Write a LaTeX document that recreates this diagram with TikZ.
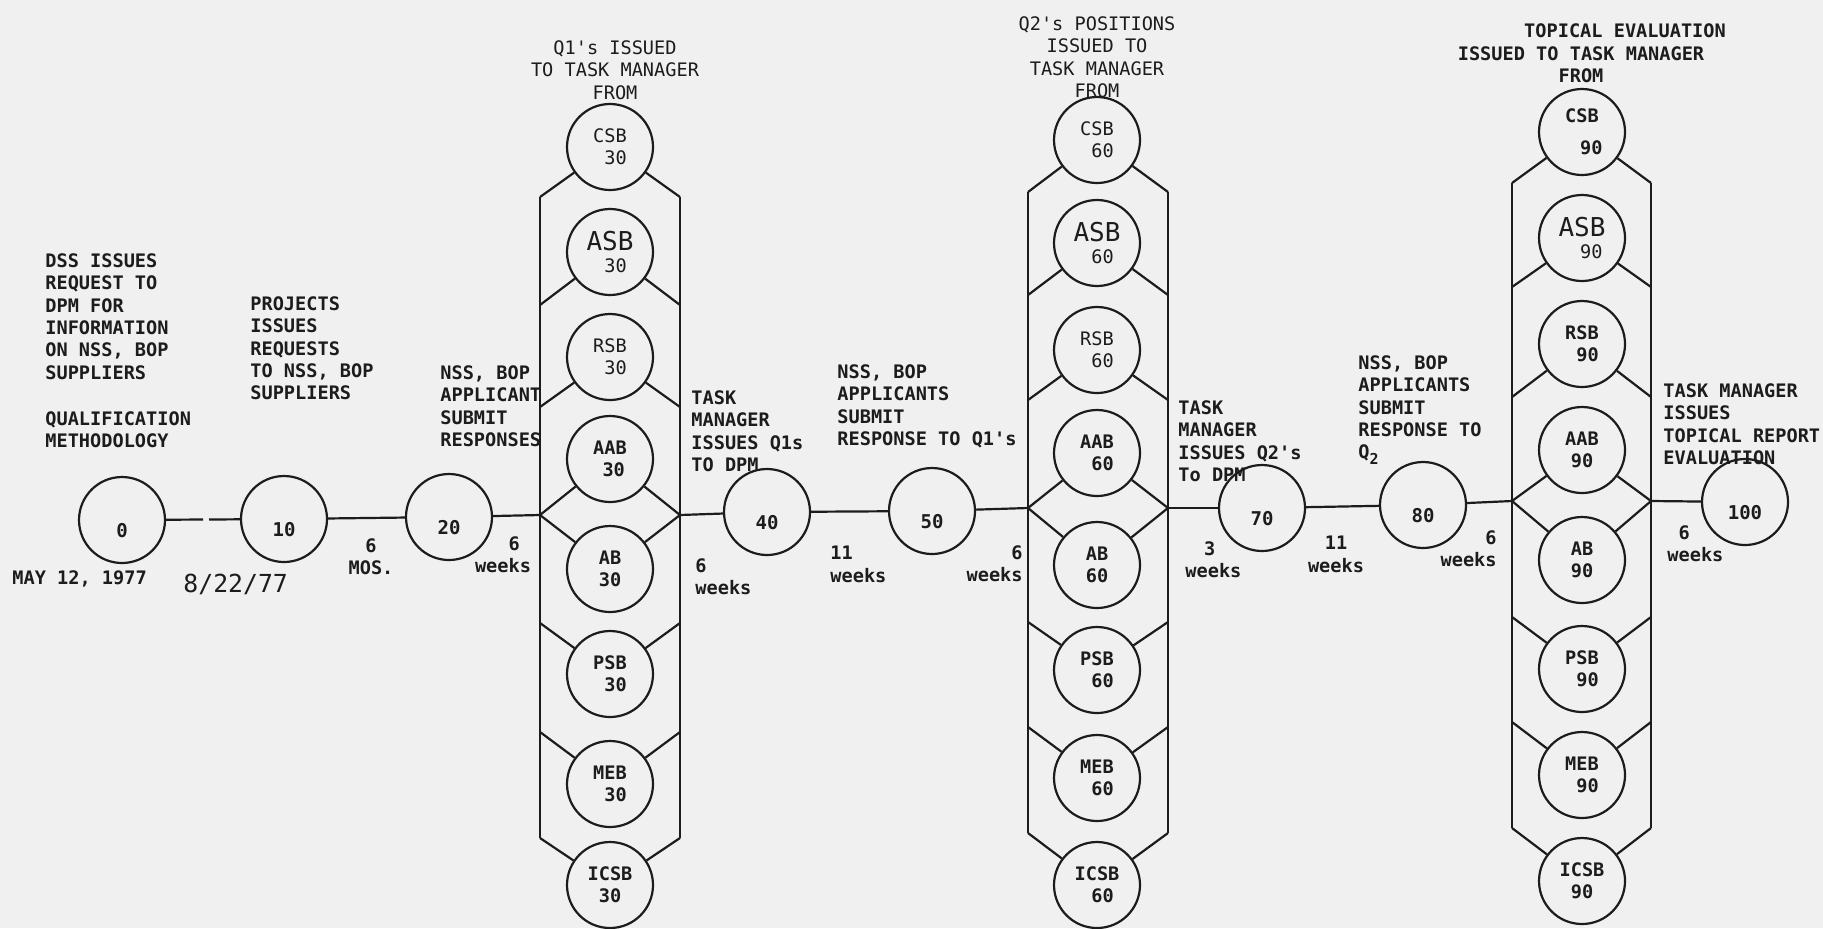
\documentclass[tikz,border=0pt]{standalone}
\usepackage{fontspec}
\newfontfamily\tw{DejaVu Sans Mono}
\definecolor{bg}{RGB}{240,240,240}
\definecolor{ink}{RGB}{28,28,28}
\newcommand\asbf{\fontsize{13}{13}\selectfont\mdseries}
\tikzset{
  ln/.style={draw=ink, line width=1.1pt},
  bub/.style={circle, draw=ink, line width=1.1pt, minimum size=43pt, inner sep=0pt, text=ink},
  tl/.style={bub, font=\tw\bfseries\fontsize{9.5}{11}\selectfont, text height=17pt, text depth=0pt},
  cr/.style={bub, align=center, font=\tw\fontsize{9.3}{11}\selectfont},
  cb/.style={bub, align=center, font=\tw\bfseries\fontsize{9.3}{11}\selectfont},
  txt/.style={inner sep=0pt, text=ink, font=\tw\bfseries\fontsize{9.3}{11.2}\selectfont},
  lt/.style={txt, align=left, anchor=north west},
  ct/.style={txt, align=center, anchor=north},
  rt/.style={txt, align=right, anchor=north east},
  reg/.style={font=\tw\fontsize{9.3}{11.2}\selectfont},
}
\begin{document}
\begin{tikzpicture}[x=0.5pt,y=-0.5pt]
\fill[bg] (0,0) rectangle (1823,928);
\useasboundingbox (0,0) rectangle (1823,928);

% timeline circles
\node[tl] (n0)   at (122,520) {0};
\node[tl] (n10)  at (284,519) {10};
\node[tl] (n20)  at (449,517) {20};
\node[tl] (n40)  at (767,512) {40};
\node[tl] (n50)  at (932,511) {50};
\node[tl] (n70)  at (1262,508) {70};
\node[tl] (n80)  at (1423,505) {80};
\node[tl] (n100) at (1745,502) {100};

% column 1
\node[cr] (a1) at (610,147) {CSB\\\hspace*{0.6em}30};
\node[cr] (a2) at (610,252) {{\asbf ASB}\\\hspace*{0.6em}30};
\node[cr] (a3) at (610,357) {RSB\\\hspace*{0.6em}30};
\node[cb] (a4) at (610,459) {AAB\\\hspace*{0.4em}30};
\node[cb] (a5) at (610,569) {AB\\30};
\node[cb] (a6) at (610,674) {PSB\\\hspace*{0.6em}30};
\node[cb] (a7) at (610,784) {MEB\\\hspace*{0.6em}30};
\node[cb] (a8) at (610,885) {ICSB\\30};
\foreach \k/\y in {0/197,1/305,2/407,3/515,4/623,5/732,6/838}{
  \coordinate (aL\k) at (540,\y); \coordinate (aR\k) at (680,\y);}

% column 2
\node[cr] (b1) at (1097,140) {CSB\\\hspace*{0.6em}60};
\node[cr] (b2) at (1097,243) {{\asbf ASB}\\\hspace*{0.6em}60};
\node[cr] (b3) at (1097,350) {RSB\\\hspace*{0.6em}60};
\node[cb] (b4) at (1097,453) {AAB\\\hspace*{0.6em}60};
\node[cb] (b5) at (1097,565) {AB\\60};
\node[cb] (b6) at (1097,670) {PSB\\\hspace*{0.6em}60};
\node[cb] (b7) at (1097,778) {MEB\\\hspace*{0.6em}60};
\node[cb] (b8) at (1097,885) {ICSB\\\hspace*{0.6em}60};
\foreach \k/\y in {0/192,1/295,2/400,3/508,4/622,5/727,6/833}{
  \coordinate (bL\k) at (1028,\y); \coordinate (bR\k) at (1168,\y);}

% column 3
\node[cb] (c1) at (1582,132) {CSB\\[5pt]\hspace*{1em}90};
\node[cr] (c2) at (1582,238) {{\asbf ASB}\\\hspace*{1em}90};
\node[cb] (c3) at (1582,344) {RSB\\\hspace*{0.6em}90};
\node[cb] (c4) at (1582,450) {AAB\\90};
\node[cb] (c5) at (1582,560) {AB\\90};
\node[cb] (c6) at (1582,669) {PSB\\\hspace*{0.6em}90};
\node[cb] (c7) at (1582,775) {MEB\\\hspace*{0.6em}90};
\node[cb] (c8) at (1582,881) {ICSB\\90};
\foreach \k/\y in {0/183,1/287,2/397,3/501,4/617,5/722,6/828}{
  \coordinate (cL\k) at (1512,\y); \coordinate (cR\k) at (1651,\y);}

% column frames
\foreach \p in {a,b,c}{
  \draw[ln] (\p L0) -- (\p L6);
  \draw[ln] (\p R0) -- (\p R6);
  \foreach \i/\k in {1/0,2/1,3/2,4/3,5/3,6/4,7/5,8/6}
    \draw[ln] (\p L\k) -- (\p\i) -- (\p R\k);
}

% main line
\coordinate (g1) at (203,519.5);
\coordinate (g2) at (209,519.5);
\draw[ln] (n0) -- (g1);
\draw[ln] (g2) -- (n10);
\draw[ln] (n10) -- (n20);
\draw[ln] (n20) -- (aL3);
\draw[ln] (aR3) -- (n40);
\draw[ln] (n40) -- (n50);
\draw[ln] (n50) -- (bL3);
\draw[ln] (bR3) -- (n70);
\draw[ln] (n70) -- (n80);
\draw[ln] (n80) -- (cL3);
\draw[ln] (cR3) -- (n100);

% texts
\node[lt] (dss) at (45,253) {DSS ISSUES\\REQUEST TO\\DPM FOR\\INFORMATION\\ON NSS, BOP\\SUPPLIERS};
\node[lt] (qual) at (45,411) {QUALIFICATION\\METHODOLOGY};
\node[lt] (proj) at (250,296) {PROJECTS\\ISSUES\\REQUESTS\\TO NSS, BOP\\SUPPLIERS};
\node[lt] (subm) at (440,365) {NSS, BOP\\APPLICANT\\SUBMIT\\RESPONSES};
\node[lt] (may) at (12,570) {MAY 12, 1977};
\node[lt, font=\tw\fontsize{12.4}{14}\selectfont] (date) at (183,574) {8/22/77};
\node[ct] (mos) at (371,538) {6\\MOS.};
\node[ct] (w1) at (503,536) {\hspace*{1.2em}6\\weeks};
\node[lt] (w2) at (695,558) {6\\weeks};
\node[lt] (w3) at (830,546) {11\\weeks};
\node[rt] (w4) at (1023,545) {6\\weeks};
\node[lt] (w5) at (1185,541) {\hspace*{1em}3\\weeks};
\node[ct] (w6) at (1336,536) {11\\weeks};
\node[rt] (w7) at (1497,530) {6\\weeks};
\node[lt] (w8) at (1667,525) {\hspace*{0.6em}6\\weeks};

\node[lt] (tm1) at (691,390) {TASK\\MANAGER\\ISSUES Q1s\\TO DPM};
\node[lt] (rs1) at (837,364) {NSS, BOP\\APPLICANTS\\SUBMIT\\RESPONSE TO Q1's};
\node[lt] (tm2) at (1178,400) {TASK\\MANAGER\\ISSUES Q2's\\To DPM};
\node[lt] (rs2) at (1358,355) {NSS, BOP\\APPLICANTS\\SUBMIT\\RESPONSE TO\\Q\raisebox{-3pt}{\fontsize{7.5}{8}\selectfont 2}};
\node[lt] (tm3) at (1663,383) {TASK MANAGER\\ISSUES\\TOPICAL REPORT\\EVALUATION};

\node[ct, reg] (t1) at (615,40) {Q1's ISSUED\\TO TASK MANAGER\\FROM};
\node[ct, reg] (t2) at (1097,16) {Q2's POSITIONS\\ISSUED TO\\TASK MANAGER\\FROM};
\node[ct] (t3a) at (1625,23) {TOPICAL EVALUATION};
\node[ct] (t3b) at (1581,46) {ISSUED TO TASK MANAGER\\FROM};
\end{tikzpicture}
\end{document}
